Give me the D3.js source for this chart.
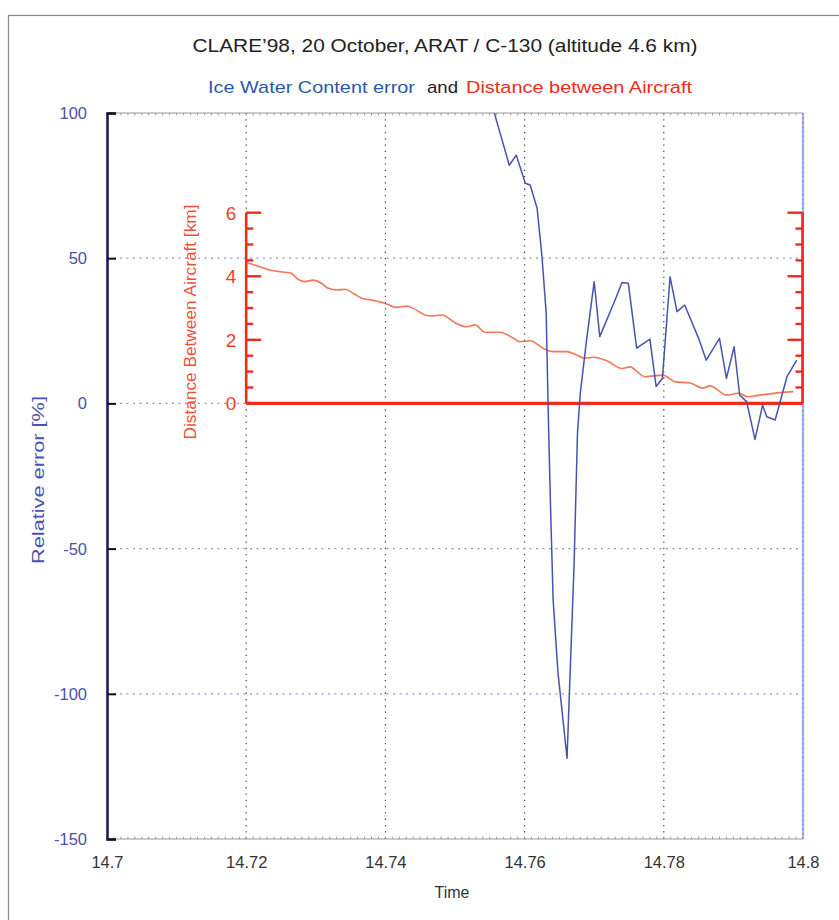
<!DOCTYPE html>
<html>
<head>
<meta charset="utf-8">
<script src="https://cdn.jsdelivr.net/npm/d3@7"></script>
<style>
  html, body { margin: 0; padding: 0; background: #fff; }
  svg { display: block; font-family: "Liberation Sans", Arial, sans-serif; }
</style>
</head>
<body>
<svg id="chart" width="839" height="920"></svg>
<script>
// Ice Water Content relative error [%] against time (decimal hours)
const iwcTime = [14.7547, 14.7578, 14.7588, 14.7601, 14.7608, 14.7618, 14.7625, 14.7631,
  14.7634, 14.7637, 14.7641, 14.7648, 14.7661, 14.7664, 14.7671, 14.7676, 14.7680,
  14.7689, 14.7700, 14.7708, 14.7730, 14.7740, 14.7749, 14.7761, 14.7780, 14.7789,
  14.7798, 14.7809, 14.7819, 14.7830, 14.7850, 14.7861, 14.7880, 14.7890, 14.7901,
  14.7909, 14.7919, 14.7931, 14.7942, 14.7948, 14.7960, 14.7977, 14.7991];
const iwcError = [108, 82.0, 85.5, 75.8, 75.2, 67.2, 50.5, 31.1,
  -3.3, -33.3, -67.7, -92.8, -122.2, -102.1, -56.2, -10.2, 3.5,
  21.8, 41.9, 23.0, 35.6, 41.6, 41.4, 19.0, 22.1, 5.8,
  8.6, 43.6, 31.6, 33.9, 22.4, 14.9, 22.4, 8.6, 19.5,
  2.9, 0.6, -12.4, -0.6, -4.6, -5.7, 9.2, 14.9];

// Distance between the two aircraft [km]
const distTime = [14.7200, 14.7213, 14.7234, 14.7249, 14.7263, 14.7275, 14.7284, 14.7296,
  14.7308, 14.7318, 14.7330, 14.7342, 14.7354, 14.7366, 14.7380, 14.7397, 14.7416,
  14.7431, 14.7440, 14.7457, 14.7467, 14.7481, 14.7500, 14.7517, 14.7529, 14.7543,
  14.7565, 14.7584, 14.7593, 14.7608, 14.7627, 14.7641, 14.7660, 14.7675, 14.7687,
  14.7699, 14.7718, 14.7740, 14.7751, 14.7773, 14.7799, 14.7816, 14.7838, 14.7856,
  14.7866, 14.7891, 14.7907, 14.7921, 14.7938, 14.7967, 14.7986];
const distKm = [4.43, 4.35, 4.20, 4.14, 4.11, 3.90, 3.83, 3.88,
  3.78, 3.62, 3.57, 3.59, 3.46, 3.31, 3.25, 3.17, 3.02,
  3.06, 2.99, 2.78, 2.75, 2.78, 2.54, 2.41, 2.47, 2.24,
  2.24, 2.05, 1.94, 1.97, 1.73, 1.63, 1.63, 1.52, 1.42,
  1.45, 1.34, 1.10, 1.15, 0.84, 0.89, 0.68, 0.64, 0.48,
  0.55, 0.26, 0.32, 0.21, 0.26, 0.34, 0.37];

const timeTicks = [14.7, 14.72, 14.74, 14.76, 14.78, 14.8];
const timeTickLabels = ["14.7", "14.72", "14.74", "14.76", "14.78", "14.8"];
const errorTicks = [100, 50, 0, -50, -100, -150];
const distTicks = [0, 2, 4, 6];

const svg = d3.select("#chart");
const BLUE = "#4a52ad", RED = "#ef2b1c", REDLINE = "#f2532f", GREY = "#333";

// outer frame
svg.append("rect").attr("x", 8.5).attr("y", 15.5).attr("width", 900).attr("height", 1000)
  .attr("fill", "none").attr("stroke", "#8a8a8a").attr("stroke-width", 1.2);

// main scales
const x = d3.scaleLinear().domain([14.7, 14.8]).range([107, 803]);
const y = d3.scaleLinear().domain([-150, 100]).range([839, 113]);
// inset distance scale (shares time axis, zero aligned with 0 %)
const yd = d3.scaleLinear().domain([0, 6]).range([y(0), y(0) - 190.7]);

// titles
svg.append("text").attr("x", 445).attr("y", 52).attr("text-anchor", "middle")
  .attr("font-size", 18.5).attr("fill", "#222")
  .attr("textLength", 505).attr("lengthAdjust", "spacingAndGlyphs")
  .text("CLARE\u201998, 20 October, ARAT / C-130 (altitude 4.6 km)");
const sub = svg.append("g").attr("font-size", 17);
sub.append("text").attr("x", 208).attr("y", 93).attr("fill", "#2b5aa5")
  .attr("textLength", 207).attr("lengthAdjust", "spacingAndGlyphs").text("Ice Water Content error");
sub.append("text").attr("x", 427).attr("y", 93).attr("fill", "#222")
  .attr("textLength", 31).attr("lengthAdjust", "spacingAndGlyphs").text("and");
sub.append("text").attr("x", 466).attr("y", 93).attr("fill", RED)
  .attr("textLength", 226).attr("lengthAdjust", "spacingAndGlyphs").text("Distance between Aircraft");

// grid: vertical dotted black, horizontal dotted blue
svg.append("g").selectAll("line").data(timeTicks.slice(1, -1)).join("line")
  .attr("x1", d => x(d)).attr("x2", d => x(d)).attr("y1", y(100)).attr("y2", y(-150))
  .attr("stroke", "#444").attr("stroke-width", 1.2).attr("stroke-dasharray", "1.3,5");
svg.append("g").selectAll("line").data(errorTicks.slice(1, -1)).join("line")
  .attr("x1", x(14.7)).attr("x2", x(14.8)).attr("y1", d => y(d)).attr("y2", d => y(d))
  .attr("stroke", "#8e93d8").attr("stroke-width", 1.3).attr("stroke-dasharray", "2,4.5");

// top and bottom frame lines with fine minor ticks
const minor = d3.range(0, 101).map(i => 14.7 + i * 0.001);
[[y(100), 1], [y(-150), -1]].forEach(([yy, dir]) => {
  svg.append("line").attr("x1", x(14.7)).attr("x2", x(14.8)).attr("y1", yy).attr("y2", yy)
    .attr("stroke", "#999").attr("stroke-width", 1);
  svg.append("g").selectAll("line").data(minor).join("line")
    .attr("x1", d => x(d)).attr("x2", d => x(d)).attr("y1", yy).attr("y2", yy + dir * 2.5)
    .attr("stroke", "#888").attr("stroke-width", 0.8);
});

// bottom time axis labels
const xAxis = d3.axisBottom(x).tickValues(timeTicks).tickSize(0).tickPadding(0)
  .tickFormat((d, i) => timeTickLabels[i]);
const gx = svg.append("g").attr("transform", `translate(0,${y(-150) + 17})`).call(xAxis);
gx.select(".domain").remove();
gx.selectAll("text").attr("font-size", 16.5).attr("fill", GREY)
  .attr("font-family", "'Liberation Sans', Arial, sans-serif").attr("dy", "0.72em");
svg.append("text").attr("x", 452).attr("y", 898).attr("text-anchor", "middle")
  .attr("font-size", 16).attr("fill", GREY).text("Time");

// right main axis
svg.append("line").attr("x1", x(14.8)).attr("x2", x(14.8)).attr("y1", y(100)).attr("y2", y(-150))
  .attr("stroke", "#a9acea").attr("stroke-width", 2.2);
svg.append("line").attr("x1", x(14.8)).attr("x2", x(14.8)).attr("y1", y(100)).attr("y2", y(-150))
  .attr("stroke", "#7d82c8").attr("stroke-width", 1).attr("stroke-dasharray", "1.5,3");

// left error axis
const yAxis = d3.axisRight(y).tickValues(errorTicks).tickSize(9).tickFormat("");
const gy = svg.append("g").attr("transform", `translate(${x(14.7)},0)`).call(yAxis);
gy.select(".domain").attr("stroke", "#1e1e50").attr("stroke-width", 2.6);
gy.selectAll(".tick line").attr("stroke", "#111").attr("stroke-width", 2);
svg.append("g").selectAll("text").data(errorTicks).join("text")
  .attr("x", 87).attr("y", d => y(d)).attr("dy", "0.36em").attr("text-anchor", "end")
  .attr("font-size", 16.5).attr("fill", BLUE).text(d => d);
svg.append("text").attr("transform", "translate(44,480) rotate(-90)")
  .attr("text-anchor", "middle").attr("font-size", 17).attr("fill", BLUE)
  .attr("textLength", 168).attr("lengthAdjust", "spacingAndGlyphs")
  .text("Relative error [%]");

// inset: distance between aircraft
const xi0 = x(14.72), xi1 = x(14.8) - 0.5;
const distMinor = d3.range(0, 13).map(i => i * 0.5);
svg.append("g").selectAll("line").data(distMinor).join("line")
  .attr("x1", xi0).attr("x2", d => xi0 + (d % 2 === 0 ? 15 : 7))
  .attr("y1", d => yd(d)).attr("y2", d => yd(d))
  .attr("stroke", RED).attr("stroke-width", 2.4);
svg.append("g").selectAll("line").data(distMinor).join("line")
  .attr("x1", xi1).attr("x2", d => xi1 - (d % 2 === 0 ? 15 : 7))
  .attr("y1", d => yd(d)).attr("y2", d => yd(d))
  .attr("stroke", RED).attr("stroke-width", 2.4);
svg.append("line").attr("x1", xi0).attr("x2", xi0).attr("y1", yd(0)).attr("y2", yd(6))
  .attr("stroke", RED).attr("stroke-width", 2.6);
svg.append("line").attr("x1", xi1).attr("x2", xi1).attr("y1", yd(0)).attr("y2", yd(6))
  .attr("stroke", RED).attr("stroke-width", 2.6);
svg.append("g").selectAll("text").data(distTicks).join("text")
  .attr("x", 231).attr("y", d => yd(d)).attr("dy", "0.36em").attr("text-anchor", "middle")
  .attr("font-size", 19).attr("fill", "#f0402c").text(d => d);
svg.append("text").attr("transform", `translate(196,${(yd(0) + yd(6)) / 2 + 14}) rotate(-90)`)
  .attr("text-anchor", "middle").attr("font-size", 16).attr("fill", "#f0503a")
  .attr("textLength", 235).attr("lengthAdjust", "spacingAndGlyphs")
  .text("Distance Between Aircraft [km]");

// distance curve
const plotClip = svg.append("clipPath").attr("id", "plotClip").append("rect")
  .attr("x", x(14.7)).attr("y", y(100)).attr("width", x(14.8) - x(14.7)).attr("height", y(-150) - y(100));
svg.append("path")
  .datum(distTime.map((t, i) => [t, distKm[i]]))
  .attr("d", d3.line().x(d => x(d[0])).y(d => yd(d[1])).curve(d3.curveMonotoneX))
  .attr("fill", "none").attr("stroke", REDLINE).attr("stroke-width", 1.6)
  .attr("stroke-opacity", 0.8);

// inset baseline
svg.append("line").attr("x1", xi0).attr("x2", xi1).attr("y1", yd(0)).attr("y2", yd(0))
  .attr("stroke", RED).attr("stroke-width", 3.2);

// ice water content error curve
svg.append("path")
  .datum(iwcTime.map((t, i) => [t, iwcError[i]]))
  .attr("clip-path", "url(#plotClip)")
  .attr("d", d3.line().x(d => x(d[0])).y(d => y(d[1])))
  .attr("fill", "none").attr("stroke", BLUE).attr("stroke-width", 1.5)
  .attr("stroke-linejoin", "round");
</script>
</body>
</html>
